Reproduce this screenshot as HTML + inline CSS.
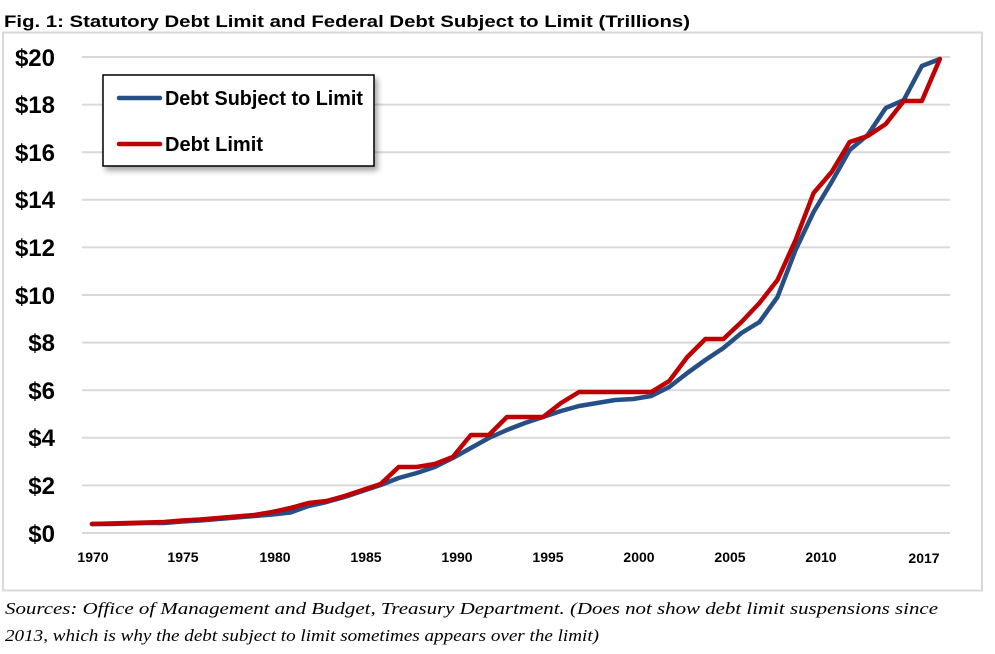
<!DOCTYPE html>
<html><head><meta charset="utf-8"><style>
html,body{margin:0;padding:0;background:#fff;}
svg{display:block;}
</style></head><body>
<svg width="995" height="654" viewBox="0 0 995 654" xmlns="http://www.w3.org/2000/svg">
<defs>
<filter id="sh" x="-10%" y="-10%" width="130%" height="140%"><feDropShadow dx="3" dy="4" stdDeviation="3" flood-color="#000" flood-opacity="0.35"/></filter>
</defs>
<text x="4" y="27" font-family="Liberation Sans, Arial, sans-serif" font-weight="bold" font-size="17" textLength="686" lengthAdjust="spacingAndGlyphs" fill="#000">Fig. 1: Statutory Debt Limit and Federal Debt Subject to Limit (Trillions)</text>
<rect x="3" y="32.5" width="979" height="558" fill="#fff" stroke="#d9d9d9" stroke-width="2"/>
<g stroke="#d9d9d9" stroke-width="2">
<line x1="82" y1="533" x2="950" y2="533"/>
<line x1="82" y1="485.4" x2="950" y2="485.4"/>
<line x1="82" y1="437.8" x2="950" y2="437.8"/>
<line x1="82" y1="390.2" x2="950" y2="390.2"/>
<line x1="82" y1="342.6" x2="950" y2="342.6"/>
<line x1="82" y1="295" x2="950" y2="295"/>
<line x1="82" y1="247.4" x2="950" y2="247.4"/>
<line x1="82" y1="199.8" x2="950" y2="199.8"/>
<line x1="82" y1="152.2" x2="950" y2="152.2"/>
<line x1="82" y1="104.6" x2="950" y2="104.6"/>
<line x1="82" y1="57" x2="950" y2="57"/>
</g>
<g font-family="Liberation Sans, Arial, sans-serif" font-weight="bold" font-size="24" fill="#000" text-anchor="end">
<text x="55" y="542">$0</text>
<text x="55" y="494">$2</text>
<text x="55" y="446">$4</text>
<text x="55" y="399">$6</text>
<text x="55" y="351">$8</text>
<text x="55" y="304">$10</text>
<text x="55" y="256">$12</text>
<text x="55" y="208">$14</text>
<text x="55" y="161">$16</text>
<text x="55" y="113">$18</text>
<text x="55" y="66">$20</text>
</g>
<g font-family="Liberation Sans, Arial, sans-serif" font-weight="bold" font-size="14" fill="#000" text-anchor="middle">
<text x="93" y="562">1970</text>
<text x="183" y="562">1975</text>
<text x="275" y="562">1980</text>
<text x="366" y="562">1985</text>
<text x="457" y="562">1990</text>
<text x="548" y="562">1995</text>
<text x="639" y="562">2000</text>
<text x="730" y="562">2005</text>
<text x="821" y="562">2010</text>
<text x="924" y="563">2017</text>
</g>
<polyline fill="none" stroke="#254F85" stroke-width="4.5" stroke-linejoin="round" stroke-linecap="round" points="92,524 110.04,524 128.08,523.5 146.12,523 164.16,523 182.2,521.5 200.24,520.5 218.28,519 236.32,517.5 254.36,516 272.4,514.5 290.44,512.5 308.48,506 326.52,502 344.56,497 362.6,491 380.64,485 398.68,478 416.72,473 434.76,467 452.8,458 470.84,448 488.88,438 506.92,430 524.96,423 543,417 561.04,411 579.08,406 597.12,403 615.16,400 633.2,399 651.24,396 669.28,387 687.32,373 705.36,360 723.4,348 741.44,333 759.48,322 777.52,297 795.56,250 813.6,212 831.64,182 849.68,150 867.72,135 885.76,108 903.8,100 921.84,66 939.88,59"/>
<polyline fill="none" stroke="#C00000" stroke-width="4.5" stroke-linejoin="round" stroke-linecap="round" points="92,524 110.04,523.5 128.08,523 146.12,522.5 164.16,522 182.2,520.5 200.24,519.5 218.28,518 236.32,516.5 254.36,515 272.4,512 290.44,508 308.48,503 326.52,501 344.56,496 362.6,490 380.64,484 398.68,467 416.72,467 434.76,464 452.8,457 470.84,435 488.88,435 506.92,417 524.96,417 543,417 561.04,403 579.08,392 597.12,392 615.16,392 633.2,392 651.24,392 669.28,381 687.32,357 705.36,339 723.4,339 741.44,322 759.48,303 777.52,280 795.56,240 813.6,193 831.64,172 849.68,142 867.72,136 885.76,124 903.8,101 921.84,101 939.88,59"/>
<rect x="103" y="75" width="271" height="91" fill="#fff" stroke="#000" stroke-width="1.5" filter="url(#sh)"/>
<line x1="119" y1="98" x2="160" y2="98" stroke="#254F85" stroke-width="4.5" stroke-linecap="round"/>
<line x1="119" y1="144" x2="160" y2="144" stroke="#C00000" stroke-width="4.5" stroke-linecap="round"/>
<g font-family="Liberation Sans, Arial, sans-serif" font-weight="bold" font-size="20" fill="#000">
<text x="165" y="105" textLength="198" lengthAdjust="spacingAndGlyphs">Debt Subject to Limit</text>
<text x="165" y="151" textLength="98" lengthAdjust="spacingAndGlyphs">Debt Limit</text>
</g>
<g font-family="Liberation Serif, serif" font-style="italic" font-size="17" fill="#000">
<text x="5" y="614" textLength="933" lengthAdjust="spacingAndGlyphs">Sources: Office of Management and Budget, Treasury Department. (Does not show debt limit suspensions since</text>
<text x="5" y="641" textLength="594" lengthAdjust="spacingAndGlyphs">2013, which is why the debt subject to limit sometimes appears over the limit)</text>
</g>
</svg>
</body></html>
